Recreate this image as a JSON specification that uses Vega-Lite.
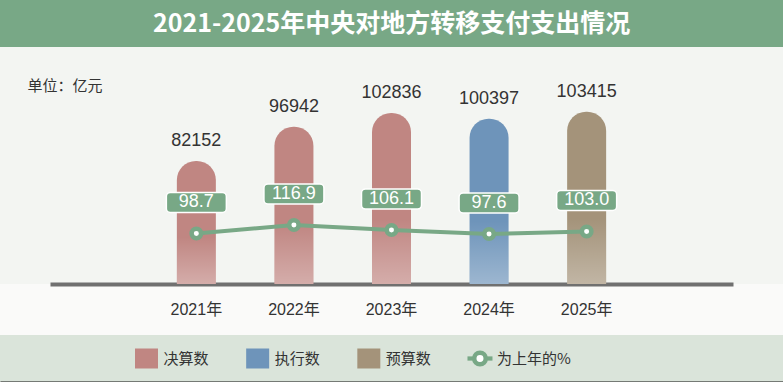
{
  "$schema": "https://vega.github.io/schema/vega-lite/v6.json",
  "padding": 0,
  "background": "#FAFAF9",
  "config": {"view": {"stroke": null}, "concat": {"spacing": 0}},
  "datasets": {
    "main": [
      {"year": "2021年", "type": "决算数", "amount": 82152, "pct": 98.7, "pctLabel": "98.7"},
      {"year": "2022年", "type": "决算数", "amount": 96942, "pct": 116.9, "pctLabel": "116.9"},
      {"year": "2023年", "type": "决算数", "amount": 102836, "pct": 106.1, "pctLabel": "106.1"},
      {"year": "2024年", "type": "执行数", "amount": 100397, "pct": 97.6, "pctLabel": "97.6"},
      {"year": "2025年", "type": "预算数", "amount": 103415, "pct": 103.0, "pctLabel": "103.0"}
    ],
    "legend": [
      {"label": "决算数", "pos": 0, "kind": "bar"},
      {"label": "执行数", "pos": 1, "kind": "bar"},
      {"label": "预算数", "pos": 2, "kind": "bar"},
      {"label": "为上年的%", "pos": 3, "kind": "line"}
    ],
    "title": [{"text": "2021-2025年中央对地方转移支付支出情况"}]
  },
  "vconcat": [
    {
      "width": 783,
      "height": 47,
      "view": {"fill": "#78A886", "stroke": null},
      "data": {"name": "title"},
      "mark": {"type": "text", "color": "white", "font": "Noto Sans CJK SC", "fontWeight": "bold", "fontSize": 25, "baseline": "middle"},
      "encoding": {"text": {"field": "text", "type": "nominal"}}
    },
    {
      "spacing": 18,
      "vconcat": [
        {
          "width": 783,
          "height": 237,
          "view": {"fill": "#F3F5F2", "stroke": null},
          "data": {"name": "main"},
          "encoding": {
            "x": {
              "field": "year", "type": "nominal", "sort": null,
              "scale": {"type": "band", "range": [50, 733], "paddingInner": 0, "paddingOuter": 1},
              "axis": {"title": null, "domainColor": "#707070", "domainWidth": 4, "ticks": false, "labelPadding": 17, "labelFontSize": 16, "labelColor": "#333333", "labelFont": "Liberation Sans, Noto Sans CJK SC", "labelAngle": 0, "grid": false}
            }
          },
          "layer": [
            {
              "encoding": {
                "y": {
                  "field": "amount", "type": "quantitative",
                  "scale": {"domain": [29200, 131300], "zero": false, "nice": false},
                  "axis": {"title": "单位：亿元", "labels": false, "ticks": false, "domain": false, "grid": false, "titleAngle": 0, "titleX": 27, "titleY": 38, "titleAlign": "left", "titleBaseline": "middle", "titleFontSize": 15, "titleFontWeight": "normal", "titleColor": "#333333", "titleFont": "Noto Sans CJK SC"}
                }
              },
              "layer": [
                {
                  "mark": {"type": "bar", "width": 39, "cornerRadiusTopLeft": 19, "cornerRadiusTopRight": 19},
                  "encoding": {
                    "y2": {"datum": 29200},
                    "color": {"field": "type", "type": "nominal", "scale": {"domain": ["决算数", "执行数", "预算数", "为上年的%"], "range": ["#C08682", "#6E94BA", "#A4937A", "#78A886"]}, "legend": null}
                  }
                },
                {
                  "mark": {"type": "bar", "width": 39, "cornerRadiusTopLeft": 19, "cornerRadiusTopRight": 19,
                    "color": {"gradient": "linear", "x1": 0, "y1": 0, "x2": 0, "y2": 1, "stops": [{"offset": 0, "color": "rgba(255,255,255,0)"}, {"offset": 0.62, "color": "rgba(255,255,255,0)"}, {"offset": 1, "color": "rgba(255,255,255,0.32)"}]}},
                  "encoding": {"y2": {"datum": 29200}}
                },
                {
                  "mark": {"type": "text", "dy": -20, "fontSize": 18, "color": "#333333", "font": "Liberation Sans", "baseline": "middle"},
                  "encoding": {"text": {"field": "amount", "type": "quantitative", "format": "d"}}
                }
              ]
            },
            {
              "encoding": {
                "y": {"field": "pct", "type": "quantitative", "scale": {"domain": [-9.7, 498.9], "zero": false, "nice": false}, "axis": null}
              },
              "layer": [
                {"mark": {"type": "line", "color": "#78A886", "strokeWidth": 4}},
                {"mark": {"type": "point", "filled": true, "fill": "white", "stroke": "#78A886", "strokeWidth": 4.5, "size": 90, "opacity": 1}},
                {"mark": {"type": "point", "shape": "M-0.867,-0.333 H0.867 A0.133,0.133 0 0 1 1,-0.2 V0.2 A0.133,0.133 0 0 1 0.867,0.333 H-0.867 A0.133,0.133 0 0 1 -1,0.2 V-0.2 A0.133,0.133 0 0 1 -0.867,-0.333 Z", "filled": true, "fill": "#78A886", "stroke": "white", "strokeWidth": 1.5, "size": 3600, "yOffset": -31, "opacity": 1}},
                {
                  "mark": {"type": "text", "dy": -31, "fontSize": 18, "color": "white", "font": "Liberation Sans", "baseline": "middle"},
                  "encoding": {"text": {"field": "pctLabel", "type": "nominal"}}
                }
              ]
            }
          ],
          "resolve": {"scale": {"y": "independent"}, "axis": {"y": "independent"}}
        },
        {
          "width": 783,
          "height": 47,
          "view": {"fill": "#DAE4DA", "stroke": null},
          "data": {"name": "legend"},
          "encoding": {
            "x": {
              "field": "pos", "type": "quantitative",
              "scale": {"domain": [-1.318, 5.726], "nice": false, "zero": false},
              "axis": {"title": null, "labels": false, "ticks": false, "grid": false, "domainColor": "#111111", "domainWidth": 2}
            }
          },
          "layer": [
            {
              "transform": [{"filter": "datum.kind === 'bar'"}],
              "mark": {"type": "point", "shape": "M-1,-0.87H1V0.87H-1Z", "filled": true, "size": 529, "opacity": 1},
              "encoding": {
                "color": {"field": "label", "type": "nominal", "scale": {"domain": ["决算数", "执行数", "预算数", "为上年的%"], "range": ["#C08682", "#6E94BA", "#A4937A", "#78A886"]}, "legend": null}
              }
            },
            {
              "transform": [{"filter": "datum.kind === 'line'"}],
              "mark": {"type": "point", "shape": "M-1,-0.17H1V0.17H-1Z", "filled": true, "size": 625, "color": "#78A886", "opacity": 1}
            },
            {
              "transform": [{"filter": "datum.kind === 'line'"}],
              "mark": {"type": "point", "filled": true, "fill": "white", "stroke": "#78A886", "strokeWidth": 4.5, "size": 132, "opacity": 1}
            },
            {
              "mark": {"type": "text", "align": "left", "dx": 17, "baseline": "middle", "fontSize": 15, "color": "#333333", "font": "Noto Sans CJK SC"},
              "encoding": {"text": {"field": "label", "type": "nominal"}}
            }
          ]
        }
      ]
    }
  ]
}
